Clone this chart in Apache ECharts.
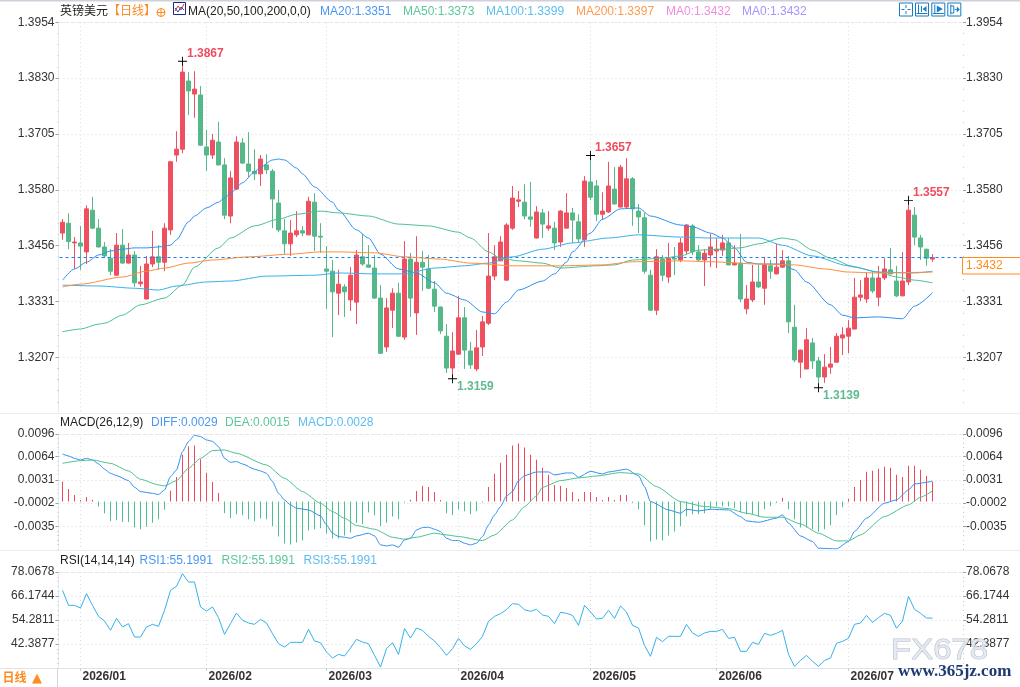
<!DOCTYPE html>
<html><head><meta charset="utf-8">
<style>html,body{margin:0;padding:0;background:#fff}#c{width:1020px;height:687px}</style>
<script src="https://cdn.jsdelivr.net/npm/echarts@6/dist/echarts.min.js"></script>
</head><body><div id="c"></div>
<script>
const categories = ("2025-12-29 2025-12-30 2025-12-31 2026-01-02 2026-01-05 2026-01-06 2026-01-07 2026-01-08 2026-01-09 2026-01-12 2026-01-13 2026-01-14 2026-01-15 2026-01-16 2026-01-19 2026-01-20 2026-01-21 2026-01-22 2026-01-23 2026-01-26 2026-01-27 2026-01-28 2026-01-29 2026-01-30 "
+"2026-02-02 2026-02-03 2026-02-04 2026-02-05 2026-02-06 2026-02-09 2026-02-10 2026-02-11 2026-02-12 2026-02-13 2026-02-16 2026-02-17 2026-02-18 2026-02-19 2026-02-20 2026-02-23 2026-02-24 2026-02-25 2026-02-26 2026-02-27 "
+"2026-03-02 2026-03-03 2026-03-04 2026-03-05 2026-03-06 2026-03-09 2026-03-10 2026-03-11 2026-03-12 2026-03-13 2026-03-16 2026-03-17 2026-03-18 2026-03-19 2026-03-20 2026-03-23 2026-03-24 2026-03-25 2026-03-26 2026-03-27 2026-03-30 2026-03-31 "
+"2026-04-01 2026-04-02 2026-04-03 2026-04-06 2026-04-07 2026-04-08 2026-04-09 2026-04-10 2026-04-13 2026-04-14 2026-04-15 2026-04-16 2026-04-17 2026-04-20 2026-04-21 2026-04-22 2026-04-23 2026-04-24 2026-04-27 2026-04-28 2026-04-29 2026-04-30 "
+"2026-05-01 2026-05-04 2026-05-05 2026-05-06 2026-05-07 2026-05-08 2026-05-11 2026-05-12 2026-05-13 2026-05-14 2026-05-15 2026-05-18 2026-05-19 2026-05-20 2026-05-21 2026-05-22 2026-05-25 2026-05-26 2026-05-27 2026-05-28 2026-05-29 "
+"2026-06-01 2026-06-02 2026-06-03 2026-06-04 2026-06-05 2026-06-08 2026-06-09 2026-06-10 2026-06-11 2026-06-12 2026-06-15 2026-06-16 2026-06-17 2026-06-18 2026-06-19 2026-06-22 2026-06-23 2026-06-24 2026-06-25 2026-06-26 2026-06-29 2026-06-30 "
+"2026-07-01 2026-07-02 2026-07-03 2026-07-06 2026-07-07 2026-07-08 2026-07-09 2026-07-10 2026-07-13 2026-07-14 2026-07-15 2026-07-16 2026-07-17 2026-07-20 2026-07-21 2026-07-22 2026-07-23 2026-07-24 2026-07-27 2026-07-28").split(" ");
const monthStarts = {"2026-01-02":"2026/01","2026-02-02":"2026/02","2026-03-02":"2026/03","2026-04-01":"2026/04","2026-05-01":"2026/05","2026-06-01":"2026/06","2026-07-01":"2026/07"};

const opens = [1.3484,1.3506,1.3462,1.3462,1.3442,1.3535,1.3495,1.3453,1.3428,1.3390,
1.3457,1.3417,1.3435,1.3371,1.3337,1.3415,1.3431,1.3419,1.3491,1.3658,
1.3671,1.3823,1.3794,1.3792,1.3676,1.3658,1.3687,1.3636,1.3522,1.3582,
1.3685,1.3638,1.3622,1.3616,1.3636,1.3622,1.3551,1.3489,1.3460,1.3480,
1.3489,1.3480,1.3553,1.3477,1.3404,1.3399,1.3350,1.3364,1.3335,1.3330,
1.3431,1.3413,1.3406,1.3339,1.3230,1.3312,1.3350,1.3252,1.3426,1.3306,
1.3419,1.3404,1.3359,1.3319,1.3254,1.3183,1.3214,1.3295,1.3221,1.3181,
1.3230,1.3283,1.3388,1.3422,1.3379,1.3495,1.3555,1.3553,1.3520,1.3473,
1.3529,1.3495,1.3495,1.3464,1.3495,1.3529,1.3509,1.3469,1.3598,1.3589,
1.3526,1.3531,1.3582,1.3542,1.3542,1.3605,1.3533,1.3518,1.3390,1.3312,
1.3426,1.3386,1.3428,1.3424,1.3444,1.3500,1.3442,1.3424,1.3435,1.3444,
1.3446,1.3462,1.3413,1.3417,1.3315,1.3335,1.3375,1.3361,1.3411,1.3393,
1.3408,1.3422,1.3274,1.3196,1.3181,1.3239,1.3199,1.3163,1.3185,1.3196,
1.3250,1.3254,1.3270,1.3341,1.3337,1.3384,1.3341,1.3384,1.3402,1.3377,
1.3344,1.3375,1.3524,1.3473,1.3448,1.3426];
const closes = [1.3508,1.3465,1.3464,1.3455,1.3538,1.3495,1.3453,1.3433,1.3399,1.3457,
1.3417,1.3435,1.3373,1.3375,1.3415,1.3431,1.3419,1.3495,1.3643,1.3671,
1.3843,1.3801,1.3805,1.3680,1.3658,1.3691,1.3636,1.3524,1.3607,1.3687,
1.3640,1.3622,1.3616,1.3649,1.3625,1.3560,1.3491,1.3460,1.3484,1.3489,
1.3484,1.3555,1.3477,1.3475,1.3399,1.3353,1.3370,1.3353,1.3390,1.3435,
1.3415,1.3408,1.3339,1.3216,1.3317,1.3350,1.3254,1.3426,1.3339,1.3419,
1.3408,1.3361,1.3321,1.3266,1.3183,1.3221,1.3295,1.3223,1.3190,1.3228,
1.3286,1.3388,1.3431,1.3464,1.3502,1.3562,1.3558,1.3522,1.3515,1.3531,
1.3504,1.3500,1.3462,1.3533,1.3529,1.3513,1.3471,1.3600,1.3564,1.3526,
1.3533,1.3589,1.3549,1.3631,1.3605,1.3538,1.3520,1.3399,1.3312,1.3431,
1.3390,1.3428,1.3426,1.3462,1.3502,1.3442,1.3424,1.3439,1.3453,1.3448,
1.3462,1.3413,1.3417,1.3337,1.3337,1.3375,1.3364,1.3413,1.3399,1.3408,
1.3422,1.3286,1.3201,1.3223,1.3246,1.3199,1.3163,1.3185,1.3192,1.3254,
1.3257,1.3272,1.3341,1.3346,1.3384,1.3355,1.3384,1.3404,1.3393,1.3344,
1.3377,1.3535,1.3475,1.3453,1.3428,1.3429];
const lows = [1.3469,1.3448,1.3404,1.3402,1.3415,1.3493,1.3452,1.3428,1.3390,1.3389,
1.3416,1.3416,1.3364,1.3364,1.3336,1.3408,1.3402,1.3399,1.3480,1.3643,
1.3662,1.3747,1.3741,1.3678,1.3622,1.3649,1.3635,1.3515,1.3506,1.3580,
1.3638,1.3609,1.3602,1.3589,1.3616,1.3495,1.3486,1.3437,1.3433,1.3475,
1.3477,1.3479,1.3444,1.3440,1.3315,1.3252,1.3301,1.3297,1.3310,1.3281,
1.3411,1.3407,1.3337,1.3215,1.3219,1.3272,1.3252,1.3246,1.3297,1.3257,
1.3355,1.3359,1.3308,1.3259,1.3172,1.3159,1.3213,1.3181,1.3181,1.3176,
1.3210,1.3279,1.3379,1.3421,1.3378,1.3491,1.3542,1.3515,1.3498,1.3472,
1.3473,1.3489,1.3446,1.3453,1.3494,1.3462,1.3462,1.3453,1.3558,1.3511,
1.3513,1.3529,1.3547,1.3541,1.3538,1.3500,1.3484,1.3393,1.3311,1.3301,
1.3377,1.3373,1.3390,1.3419,1.3437,1.3435,1.3423,1.3366,1.3408,1.3406,
1.3433,1.3412,1.3412,1.3330,1.3303,1.3330,1.3361,1.3324,1.3382,1.3392,
1.3407,1.3261,1.3196,1.3161,1.3180,1.3181,1.3139,1.3150,1.3170,1.3195,
1.3212,1.3216,1.3269,1.3332,1.3328,1.3350,1.3321,1.3379,1.3392,1.3341,
1.3343,1.3368,1.3457,1.3424,1.3411,1.3420];
const highs = [1.3515,1.3528,1.3475,1.3500,1.3546,1.3565,1.3515,1.3464,1.3448,1.3484,
1.3493,1.3462,1.3444,1.3411,1.3433,1.3489,1.3457,1.3506,1.3645,1.3711,
1.3867,1.3843,1.3845,1.3812,1.3714,1.3705,1.3732,1.3651,1.3622,1.3700,
1.3696,1.3709,1.3671,1.3658,1.3660,1.3627,1.3580,1.3515,1.3513,1.3533,
1.3500,1.3565,1.3573,1.3506,1.3455,1.3424,1.3402,1.3370,1.3408,1.3446,
1.3482,1.3457,1.3435,1.3368,1.3339,1.3361,1.3373,1.3466,1.3440,1.3477,
1.3444,1.3435,1.3377,1.3320,1.3281,1.3263,1.3344,1.3319,1.3241,1.3268,
1.3299,1.3484,1.3457,1.3477,1.3506,1.3589,1.3578,1.3593,1.3598,1.3544,
1.3538,1.3533,1.3509,1.3535,1.3573,1.3540,1.3526,1.3611,1.3657,1.3602,
1.3575,1.3643,1.3631,1.3636,1.3651,1.3609,1.3549,1.3529,1.3402,1.3448,
1.3435,1.3462,1.3453,1.3473,1.3504,1.3504,1.3457,1.3448,1.3482,1.3473,
1.3480,1.3473,1.3457,1.3482,1.3368,1.3413,1.3413,1.3431,1.3424,1.3460,
1.3446,1.3433,1.3324,1.3224,1.3272,1.3250,1.3208,1.3214,1.3230,1.3261,
1.3274,1.3290,1.3384,1.3379,1.3395,1.3399,1.3411,1.3428,1.3451,1.3411,
1.3442,1.3557,1.3542,1.3480,1.3449,1.3437];

const ma20 = [[0,1.3379],[2,1.3404],[4,1.3419],[6,1.3435],[8,1.3444],[10,1.3448],[12,1.3451],[14,1.3451],[16,1.3453],[18,1.3457],[19,1.3469],[21,1.3509],[22,1.3522],[24,1.3540],[26,1.3553],[27,1.3562],[28,1.3573],[30,1.3596],[32,1.3620],[33,1.3631],[35,1.3647],[36,1.3649],[37,1.3647],[39,1.3629],[40,1.3616],[42,1.3587],[45,1.3553],[46,1.3535],[49,1.3491],[51,1.3473],[53,1.3437],[56,1.3404],[59,1.3395],[62,1.3373],[64,1.3350],[67,1.3335],[70,1.3308],[72,1.3304],[74,1.3330],[76,1.3357],[80,1.3377],[82,1.3393],[84,1.3419],[85,1.3442],[88,1.3484],[90,1.3515],[93,1.3538],[96,1.3540],[98,1.3522],[103,1.3502],[105,1.3498],[108,1.3484],[110,1.3473],[112,1.3451],[114,1.3419],[116,1.3415],[120,1.3415],[122,1.3402],[124,1.3375],[128,1.3324],[130,1.3301],[132,1.3295],[136,1.3297],[140,1.3293],[142,1.3321],[145,1.3351]];
const ma50 = [[0,1.3264],[3,1.3270],[6,1.3281],[7,1.3283],[10,1.3301],[13,1.3324],[17,1.3339],[20,1.3368],[22,1.3408],[26,1.3451],[28,1.3473],[32,1.3500],[36,1.3515],[39,1.3526],[43,1.3533],[46,1.3529],[51,1.3522],[56,1.3504],[61,1.3500],[66,1.3486],[68,1.3473],[71,1.3442],[73,1.3428],[76,1.3422],[80,1.3417],[83,1.3406],[89,1.3411],[92,1.3413],[95,1.3424],[100,1.3428],[103,1.3433],[106,1.3446],[110,1.3448],[113,1.3451],[116,1.3460],[120,1.3473],[122,1.3469],[125,1.3446],[128,1.3428],[132,1.3408],[136,1.3397],[139,1.3386],[142,1.3379],[145,1.3373]];
const ma100 = [[0,1.3368],[6,1.3366],[12,1.3361],[16,1.3357],[19,1.3366],[24,1.3375],[28,1.3377],[34,1.3388],[42,1.3390],[46,1.3395],[52,1.3393],[57,1.3393],[62,1.3406],[67,1.3411],[71,1.3417],[75,1.3431],[80,1.3448],[85,1.3462],[91,1.3473],[96,1.3480],[103,1.3475],[108,1.3473],[116,1.3473],[120,1.3457],[125,1.3433],[131,1.3411],[136,1.3397],[142,1.3395],[145,1.3399]];
const ma200 = [[0,1.3364],[3,1.3370],[10,1.3386],[14,1.3399],[17,1.3406],[21,1.3417],[25,1.3424],[31,1.3431],[38,1.3437],[43,1.3442],[46,1.3442],[52,1.3440],[57,1.3431],[63,1.3426],[68,1.3417],[75,1.3411],[83,1.3411],[90,1.3413],[95,1.3420],[103,1.3422],[108,1.3420],[116,1.3415],[122,1.3413],[127,1.3404],[131,1.3397],[136,1.3395],[145,1.3397]];
const priceLine = 1.3429;
const extremes = [[20,1.3867,"high"],[88,1.3657,"high"],[141,1.3557,"high"],[65,1.3159,"low"],[126,1.3139,"low"]];

const macdBars = [.00284,.00179,.00093,.00022,.00065,.00026,-.00069,-.00165,-.00275,-.00265,-.00289,-.00289,-.00366,-.00394,-.00356,-.00299,-.00251,-.00117,.00155,.00351,.00667,.00782,.00796,.00600,.00409,.00280,.00122,-.00165,-.00237,-.00179,-.00194,-.00251,-.00280,-.00237,-.00251,-.00351,-.00495,-.00595,-.00609,-.00581,-.00552,-.00409,-.00394,-.00380,-.00452,-.00523,-.00523,-.00480,-.00437,-.00299,-.00323,-.00155,-.00194,-.00347,-.00299,-.00213,-.00251,-.00012,.00026,.00151,.00222,.00208,.00136,.00022,-.00165,-.00194,-.00108,-.00136,-.00179,-.00136,-.00012,.00208,.00394,.00552,.00667,.00796,.00825,.00767,.00667,.00595,.00480,.00380,.00237,.00222,.00194,.00136,.00036,.00136,.00136,.00065,.00022,.00065,.00022,.00093,.00093,-.00017,-.00108,-.00337,-.00566,-.00538,-.00552,-.00480,-.00423,-.00351,-.00208,-.00179,-.00179,-.00165,-.00108,-.00065,-.00065,-.00069,-.00093,-.00151,-.00179,-.00179,-.00208,-.00108,-.00065,-.00017,.00050,-.00108,-.00251,-.00366,-.00366,-.00394,-.00423,-.00394,-.00337,-.00194,-.00079,.00036,.00208,.00308,.00423,.00437,.00466,.00495,.00480,.00380,.00351,.00509,.00509,.00452,.00366,.00280];
const diffLine = [[0,.00677],[1,.00648],[2,.00615],[3,.00591],[4,.00615],[5,.00591],[6,.00535],[7,.0046],[8,.00402],[9,.00369],[11,.00298],[12,.00204],[13,.00142],[15,.00118],[16,.00100],[17,.00166],[18,.00355],[19,.0045],[20,.0071],[21,.00852],[22,.00942],[23,.00923],[24,.00875],[25,.00856],[26,.00781],[27,.00615],[28,.00558],[29,.00568],[30,.00535],[32,.0046],[33,.00435],[34,.00402],[35,.00284],[36,.00118],[37,.00024],[38,-.00047],[39,-.00094],[41,-.00118],[43,-.00203],[44,-.00331],[45,-.00449],[46,-.00496],[47,-.00506],[48,-.0052],[49,-.00487],[51,-.00449],[52,-.00487],[53,-.00615],[54,-.00629],[55,-.00615],[56,-.00648],[57,-.00544],[58,-.0052],[59,-.00402],[60,-.00369],[61,-.00364],[62,-.00392],[63,-.00425],[64,-.0052],[65,-.00553],[66,-.00553],[67,-.00591],[68,-.00615],[69,-.00591],[70,-.00496],[71,-.00331],[72,-.00189],[73,-.00071],[74,.0008],[75,.00142],[76,.00298],[77,.00369],[79,.00421],[81,.00421],[82,.00379],[84,.00407],[85,.00407],[86,.00345],[88,.0043],[90,.00393],[91,.00421],[94,.0046],[96,.00369],[97,.00213],[98,0],[101,-.00118],[103,-.00165],[104,-.00109],[106,-.00132],[108,-.00109],[111,-.00118],[113,-.00213],[114,-.00274],[116,-.00293],[119,-.00236],[120,-.00189],[121,-.00307],[123,-.00487],[125,-.00567],[126,-.00662],[129,-.00671],[131,-.00567],[132,-.00425],[134,-.00236],[137,-.00023],[139,.00024],[141,.00166],[142,.00251],[145,.0029]];
const deaLine = [[0,.00544],[3,.00582],[5,.00591],[8,.00544],[11,.00435],[13,.00317],[16,.00237],[17,.00223],[19,.00298],[21,.00473],[23,.00615],[25,.00724],[27,.00733],[29,.00686],[34,.0052],[37,.00331],[40,.00142],[43,-.00023],[45,-.00142],[47,-.00236],[49,-.0034],[52,-.00392],[55,-.00506],[57,-.00534],[59,-.00506],[62,-.00449],[64,-.00473],[66,-.00496],[70,-.00553],[72,-.00473],[75,-.0026],[77,-.00071],[79,.0008],[80,.00204],[83,.00298],[86,.00336],[89,.00364],[93,.00412],[96,.00393],[99,.00213],[103,0],[107,-.0007],[111,-.00099],[114,-.00165],[117,-.00222],[120,-.00222],[123,-.00317],[126,-.00449],[129,-.00558],[131,-.00558],[133,-.00473],[137,-.00213],[141,-.00047],[143,.00062],[145,.0015]];

const rsiLine = [68.98,61.55,61.55,60.23,67.33,61.55,56.10,53.79,49.16,55.11,50.81,52.46,45.86,45.86,50.81,52.13,51.14,59.07,68.98,70.97,77.24,73.11,73.11,60.72,58.74,60.72,55.44,47.18,52.46,57.75,54.12,52.79,52.13,54.61,52.79,47.51,42.55,40.90,43.21,43.21,43.21,49.66,43.87,43.05,38.42,35.45,37.25,36.44,40.40,44.70,43.38,42.55,36.77,30.99,40.07,43.05,37.25,49.99,45.36,50.32,49.16,46.19,43.87,40.57,36.77,40.07,45.20,41.40,39.74,42.55,46.19,53.62,56.10,57.42,59.40,62.38,62.05,59.40,58.58,59.57,56.76,56.10,52.46,58.08,57.59,56.59,51.64,61.55,58.25,54.78,55.11,59.07,55.11,61.22,58.25,51.64,50.32,41.73,36.27,45.69,43.54,46.19,46.19,46.19,52.13,47.84,46.19,47.84,48.66,48.66,49.66,45.20,45.69,38.75,38.75,43.21,42.22,47.67,46.68,47.67,49.16,37.25,31.32,34.29,36.77,33.80,31.32,34.29,35.45,42.72,43.71,45.20,52.13,52.79,56.59,53.13,55.44,57.59,56.59,50.15,53.79,66.01,59.57,57.59,55.27,55.20];

const mainTicks = [1.3954,1.3830,1.3705,1.3580,1.3456,1.3331,1.3207];
const macdTicks = [0.0096,0.0064,0.0031,-0.0002,-0.0035];
const rsiTicks = [78.0678,66.1744,54.2811,42.3877];

const headerMain = [["MA20:1.3351",320,"#4a97f2"],["MA50:1.3373",403,"#5cc79a"],["MA100:1.3399",486,"#5cbdee"],["MA200:1.3397",576,"#ff9a50"],["MA0:1.3432",666,"#ef8ddc"],["MA0:1.3432",742,"#a794ff"]];
const headerMacd = [["DIFF:0.0029",151,"#4a97f2"],["DEA:0.0015",225,"#5cc79a"],["MACD:0.0028",298,"#5cbdee"]];
const headerRsi = [["RSI1:55.1991",139.5,"#4a97f2"],["RSI2:55.1991",221.5,"#5cc79a"],["RSI3:55.1991",303.5,"#5cbdee"]];

const UP="#ee5060", DOWN="#54b888", FONT='"Liberation Sans","Noto Sans CJK SC",sans-serif';
const gridLeft=59.5, gridW=906;
const panels=[{top:22.3,h:389.7,min:1.3085,max:1.3954,ticks:mainTicks,dec:4},
              {top:434,h:115,min:-0.00673,max:0.0096,ticks:macdTicks,dec:4},
              {top:572,h:96,min:30.5,max:78.0678,ticks:rsiTicks,dec:4}];
const isMonth=i=>categories[i] in monthStarts;
const grid=panels.map(p=>({left:gridLeft,width:gridW,top:p.top,height:p.h,containLabel:false}));
const xAxis=panels.map((p,k)=>({type:'category',gridIndex:k,data:categories,boundaryGap:true,
  axisLine:{show:k===2,lineStyle:{color:'#dde4ea'}},
  axisTick:{show:k===2,alignWithLabel:true,interval:i=>isMonth(i),length:3,lineStyle:{color:'#c4ccd4'}},
  splitLine:{show:true,alignWithLabel:true,interval:i=>isMonth(i),lineStyle:{type:[1,3],color:'#d6dadf',width:1}},
  axisLabel:{show:k===2,interval:i=>isMonth(i),margin:3,align:'left',padding:[0,0,0,2],fontFamily:FONT,fontSize:12,fontWeight:'bold',color:'#333',formatter:v=>monthStarts[v]||''}
}));
const yAxis=[];
panels.forEach((p,k)=>{
  const step=Math.abs(p.ticks[1]-p.ticks[0])/5, minor=[];
  p.ticks.forEach(t=>{for(let j=1;j<5;j++){const v=t-j*step;if(v>p.min)minor.push(v);}});
  const last=p.ticks[p.ticks.length-1]; for(let v=last-step;v>p.min;v-=step)minor.push(v);
  const base={type:'value',gridIndex:k,min:p.min,max:p.max,scale:true};
  yAxis.push({...base,position:'left',offset:1,
    axisLine:{show:true,lineStyle:{color:'#e4eaf0'}},
    axisTick:{show:true,length:3,customValues:p.ticks,lineStyle:{color:'#9aa2aa'}},
    splitLine:{show:true,lineStyle:{type:[1,3],color:'#d6dadf'}},
    axisLabel:{show:true,customValues:p.ticks,margin:4,color:'#333',fontFamily:FONT,fontSize:12,formatter:v=>v.toFixed(p.dec)}});
  yAxis.push({...base,position:'right',offset:-2.5,
    axisLine:{show:false},
    axisTick:{show:true,length:3,customValues:p.ticks,lineStyle:{color:'#9aa2aa'}},
    splitLine:{show:false},
    axisLabel:{show:true,customValues:p.ticks,margin:3,color:'#333',fontFamily:FONT,fontSize:12,formatter:v=>v.toFixed(p.dec)}});
  yAxis.push({...base,position:'left',offset:1,axisLine:{show:false},splitLine:{show:false},axisLabel:{show:false},
    axisTick:{show:true,length:1,customValues:minor,lineStyle:{color:'#c4c9ce'}}});
  yAxis.push({...base,position:'right',offset:-2.5,axisLine:{show:false},splitLine:{show:false},axisLabel:{show:false},
    axisTick:{show:true,length:1,customValues:minor,lineStyle:{color:'#c4c9ce'}}});
});
const maSeries=(name,data,color)=>({type:'line',name,data,xAxisIndex:0,yAxisIndex:0,symbol:'none',smooth:0.25,smoothMonotone:'x',lineStyle:{width:1,color},itemStyle:{color},silent:true,z:5});
const PLUS='path://M-5,-0.5H5V0.5H-5Z M-0.5,-5H0.5V5H-0.5Z';
const ma200Series=maSeries('MA200',ma200,'#ff8c3a');
ma200Series.markLine={silent:true,symbol:'none',animation:false,precision:4,label:{show:false},lineStyle:{type:[3,3],color:'#1a7cff',width:1},data:[{yAxis:priceLine}]};
const series=[
 {type:'candlestick',name:'英镑美元',xAxisIndex:0,yAxisIndex:0,barWidth:4,
  data:opens.map((o,i)=>[o,closes[i],lows[i],highs[i]]),
  itemStyle:{color:UP,color0:DOWN,borderColor:UP,borderColor0:DOWN,borderWidth:1},
  markPoint:{silent:true,animation:false,symbol:PLUS,symbolSize:9,itemStyle:{color:'#000'},
    data:extremes.map(([i,v,kind])=>({coord:[categories[i],v],value:v,
      label:{show:true,position:'right',distance:0,offset:[0,kind==='high'?-7.5:7.5],fontFamily:FONT,fontSize:12,fontWeight:'bold',color:kind==='high'?'#ef4c5e':'#5ebb92',formatter:()=>v.toFixed(4)}}))}
 },
 maSeries('MA20',ma20,'#2f8ff0'),maSeries('MA50',ma50,'#4cc08f'),maSeries('MA100',ma100,'#36b0ea'),ma200Series,
 {type:'bar',name:'MACD',xAxisIndex:1,yAxisIndex:4,barWidth:1,data:macdBars,silent:true,itemStyle:{color:p=>p.value>=0?'#f0485a':'#4cc08f'}},
 {type:'line',name:'DIFF',xAxisIndex:1,yAxisIndex:4,data:diffLine,symbol:'none',smooth:0.2,smoothMonotone:'x',lineStyle:{width:1,color:'#2f8ff0'},silent:true,z:5},
 {type:'line',name:'DEA',xAxisIndex:1,yAxisIndex:4,data:deaLine,symbol:'none',smooth:0.2,smoothMonotone:'x',lineStyle:{width:1,color:'#4cc08f'},silent:true,z:5},
 {type:'line',name:'RSI',xAxisIndex:2,yAxisIndex:8,data:rsiLine,symbol:'none',lineStyle:{width:1,color:'#36b0ea'},silent:true,z:5}
];

const txt=(text,x,y,fill,extra={})=>({type:'text',z:50,silent:true,x,y,style:{text,fill,font:'12px '+FONT,textVerticalAlign:'middle',...extra}});
const ln=(x1,y1,x2,y2,stroke,w=1)=>({type:'line',z:50,silent:true,shape:{x1,y1,x2,y2},style:{stroke,lineWidth:w}});
const poly=(points,stroke,fill)=>({type:fill?'polygon':'polyline',z:50,silent:true,shape:{points},style:fill?{fill}:{stroke,fill:null,lineWidth:1}});
const BL='#1a7cc4';
const btn=(x,parts)=>[{type:'rect',z:49,silent:true,shape:{x,y:3,width:13,height:13},style:{fill:'#fff',stroke:BL,lineWidth:1}},
  ...parts.map(p=>p.length===4?ln(x+p[0],3+p[1],x+p[2],3+p[3],BL):poly(p.map(q=>[x+q[0],3+q[1]]),null,BL))];
const topDash=y=>({type:'line',z:1,silent:true,shape:{x1:59.5,y1:y,x2:963,y2:y},style:{stroke:'#e2e4e8',lineWidth:1,lineDash:[3,3]}});
const graphic=[
  {type:'rect',z:1,silent:true,shape:{x:0,y:0,width:1020,height:1.5},style:{fill:'#cfd0da'}},
  {type:'rect',z:1,silent:true,shape:{x:0,y:413,width:1020,height:1},style:{fill:'#e8edf1'}},
  {type:'rect',z:1,silent:true,shape:{x:0,y:550,width:1020,height:1},style:{fill:'#e8edf1'}},
  {type:'rect',z:1,silent:true,shape:{x:0,y:668,width:60,height:1},style:{fill:'#dde4ea'}},
  {type:'rect',z:1,silent:true,shape:{x:57,y:668,width:1,height:19},style:{fill:'#cfd6dc'}},
  topDash(22.5),topDash(434.5),topDash(572.5),
  txt('英镑美元',60,11.5,'#222'),
  txt('【日线】',108,11.5,'#ff8a1f'),
  {type:'circle',z:50,silent:true,shape:{cx:161,cy:12.5,r:4},style:{fill:'none',stroke:'#ff8a1f',lineWidth:1}},
  ln(157,12.5,165,12.5,'#ff8a1f'),ln(161,8.5,161,16.5,'#ff8a1f'),
  {type:'rect',z:50,silent:true,shape:{x:173.5,y:2.5,width:12,height:12},style:{fill:'#fff',stroke:'#1c2a78',lineWidth:1}},
  poly([[175,11],[178,6],[181,10],[184,4]],'#e03040'),poly([[175,8],[178,12],[181,7],[184,10]],'#2050c8'),
  txt('MA(20,50,100,200,0,0)',188,11.5,'#222'),
  txt('MACD(26,12,9)',60,423,'#222'),
  txt('RSI(14,14,14)',60,560.5,'#222'),
  ...headerMain.map(([t,x,c])=>txt(t,x,11.5,c)),
  ...headerMacd.map(([t,x,c])=>txt(t,x,423,c)),
  ...headerRsi.map(([t,x,c])=>txt(t,x,560.5,c)),
  ...btn(899.5,[[2,6.5,5,6.5],[8,6.5,11,6.5],[6.5,2,6.5,5],[6.5,8,6.5,11],[[5.5,5.5],[7.5,5.5],[7.5,7.5],[5.5,7.5]]]),
  ...btn(915.5,[[3,1.5,3,11],[1,10.5,12,10.5],[6,3,6,9],[[11,3],[7,6],[11,9]]]),
  ...btn(931.8,[[3,1.5,3,11],[1,10.5,12,10.5],[[5,2.5],[11,6],[5,9.5]]]),
  ...btn(947.8,[[3,1.5,3,11.5],[6,3,6,10],[3,3,6,3],[3,10,6,10],[7,6.5,9,6.5],[[9,3.5],[12,6.5],[9,9.5]]]),
  {type:'rect',z:60,silent:true,shape:{x:962.5,y:257.5,width:60,height:16.5},style:{fill:'#fff',stroke:'#ff8c1a',lineWidth:1}},
  {...txt('1.3432',966,265.8,'#ff8c1a'),z:61},
  txt('日线',2.5,679,'#ff8a1f',{font:'bold 12px '+FONT}),
  txt('▲',32,678.5,'#ff8a1f',{font:'13px "DejaVu Sans",sans-serif'}),
  {type:'text',z:70,silent:true,x:891,y:651,scaleX:1.1,style:{text:'FX678',font:'30px '+FONT,fill:'rgba(226,231,240,0.85)',stroke:'rgba(176,186,202,0.9)',lineWidth:1,textVerticalAlign:'middle'}},
  {type:'text',z:70,silent:true,x:898,y:672,style:{text:'www.365jz.com',font:'bold 17px "Liberation Serif",serif',fill:'#1e3a70',textVerticalAlign:'middle'}}
];
const chart=echarts.init(document.getElementById('c'),null,{renderer:'canvas'});
chart.setOption({animation:false,backgroundColor:'#fff',textStyle:{fontFamily:FONT},grid,xAxis,yAxis,series,graphic});
</script></body></html>
